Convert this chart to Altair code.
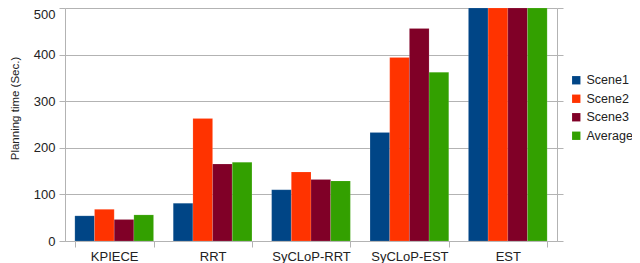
import altair as alt
import pandas as pd

planners = ["KPIECE", "RRT", "SyCLoP-RRT", "SyCLoP-EST", "EST"]
series = ["Scene1", "Scene2", "Scene3", "Average"]
scene1 = [54, 81, 110, 233, 500]
scene2 = [68, 263, 148, 394, 500]
scene3 = [46, 165, 132, 456, 500]
average = [56, 169, 129, 362, 500]
colors = ["#004586", "#ff3300", "#800027", "#33a000"]

rows = []
for s, vals in zip(series, [scene1, scene2, scene3, average]):
    for p, v in zip(planners, vals):
        rows.append({"planner": p, "series": s, "value": v})
df = pd.DataFrame(rows)

font = "Liberation Sans"

base = alt.Chart(df)

bars = base.mark_bar(stroke="#ffffff", strokeOpacity=0.25, strokeWidth=0.5).encode(
    x=alt.X("planner:N", sort=planners,
            scale=alt.Scale(paddingInner=0.2, paddingOuter=0.1),
            axis=alt.Axis(title=None, labelAngle=0, labelFont=font, labelFontSize=13,
                          labelColor="#222222", labelPadding=3, tickBand="extent",
                          tickSize=6, tickColor="#b3b3b3", domainColor="#b3b3b3",
                          grid=False)),
    xOffset=alt.XOffset("series:N", sort=series),
    y=alt.Y("value:Q", scale=alt.Scale(domain=[0, 500], clamp=True, nice=False),
            axis=alt.Axis(title="Planning time (Sec.)", values=[0, 100, 200, 300, 400, 500],
                          titleFont=font, titleFontSize=11.5, titleFontWeight="normal",
                          titleColor="#222222", titleX=-45, titleY=100,
                          labelFont=font, labelFontSize=13, labelColor="#222222",
                          labelBaseline=alt.ExprRef(expr="datum.value === 500 ? 'top' : 'middle'"),
                          labelPadding=4, tickSize=6, tickColor="#b3b3b3",
                          domainColor="#b3b3b3", gridColor="#b3b3b3")),
    color=alt.Color("series:N", sort=series,
                    scale=alt.Scale(domain=series, range=colors),
                    legend=alt.Legend(title=None, orient="none", legendX=505, legendY=66,
                                      symbolType="square", symbolSize=70,
                                      symbolStrokeWidth=0, labelFont=font,
                                      labelFontSize=12.5, labelColor="#222222",
                                      rowPadding=5.5, labelOffset=4)),
)

right_axis = base.mark_rule(opacity=0).encode(
    y=alt.Y("value:Q", scale=alt.Scale(domain=[0, 500], clamp=True, nice=False),
            axis=alt.Axis(orient="right", title=None, labels=False,
                          values=[0, 100, 200, 300, 400, 500], tickSize=6,
                          tickColor="#b3b3b3", domainColor="#b3b3b3", grid=False)),
)

chart = alt.layer(bars, right_axis).resolve_axis(y="independent").properties(
    width=492, height=233,
    autosize=alt.AutoSizeParams(type="none"),
    padding={"left": 57, "top": 0, "right": 75, "bottom": 22},
).configure_view(stroke=None)

chart.save("out.html", embed_options={"renderer": "svg", "actions": False})
